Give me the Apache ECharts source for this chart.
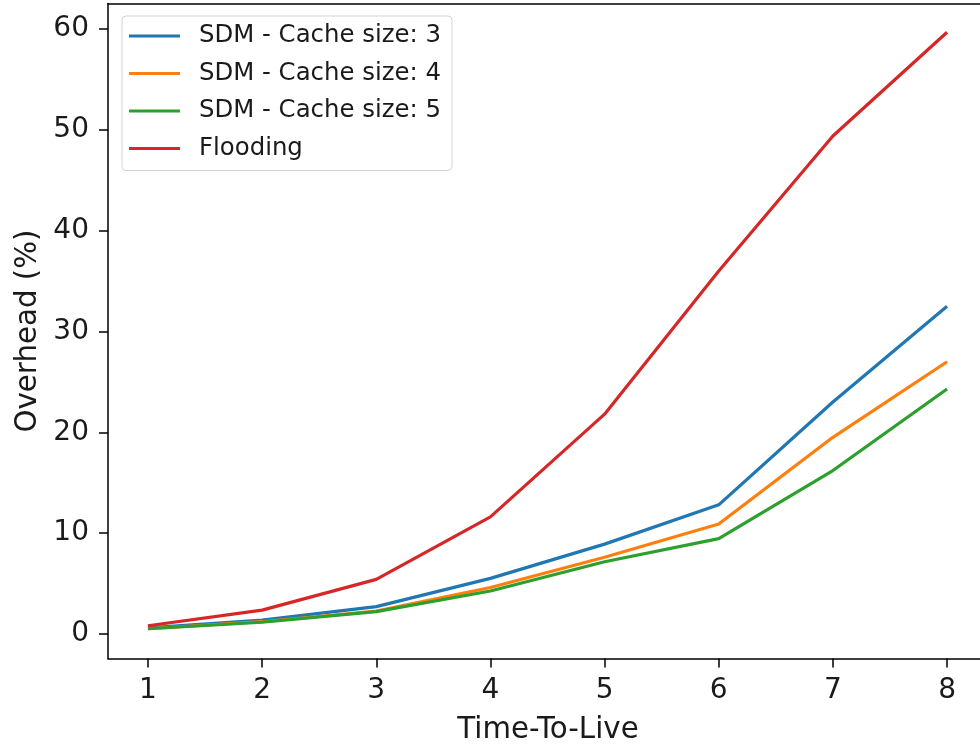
<!DOCTYPE html>
<html>
<head>
<meta charset="utf-8">
<script src="https://cdn.jsdelivr.net/npm/echarts@6/dist/echarts.min.js"></script>
<style>
  html, body { margin: 0; padding: 0; background: #fff; }
  #chart { width: 980px; height: 746px; }
</style>
</head>
<body>
<div id="chart"></div>
<script>
// Time-To-Live values on the x axis
const ttl = [1, 2, 3, 4, 5, 6, 7, 8];
const xTicks = [1, 2, 3, 4, 5, 6, 7, 8];
const yTicks = [0, 10, 20, 30, 40, 50, 60];

// Overhead (%) per strategy
const sdmCache3 = [0.6, 1.35, 2.7, 5.5, 8.9, 12.8, 23.0, 32.5];
const sdmCache4 = [0.5, 1.2, 2.25, 4.6, 7.6, 10.9, 19.5, 27.0];
const sdmCache5 = [0.5, 1.15, 2.2, 4.25, 7.15, 9.45, 16.2, 24.3];
const flooding  = [0.8, 2.35, 5.4, 11.6, 21.8, 36.0, 49.4, 59.7];

const seriesNames = ['SDM - Cache size: 3', 'SDM - Cache size: 4', 'SDM - Cache size: 5', 'Flooding'];
const seriesData = [sdmCache3, sdmCache4, sdmCache5, flooding];
const colors = ['#1f77b4', '#ff7f0e', '#2ca02c', '#d62728'];

const font = 'DejaVu Sans';
const ink = '#1a1a1a';

// x range runs past the right edge of the canvas, so the right frame line is not visible
const xMin = 0.65, xMax = 8.2887;
const yMin = -2.45, yMax = 62.55;

const chart = echarts.init(document.getElementById('chart'), null, { renderer: 'canvas' });

const spine = { show: true, onZero: false, lineStyle: { color: '#000', width: 1.5 } };

chart.setOption({
  animation: false,
  backgroundColor: '#ffffff',
  color: colors,
  grid: { left: 108, top: 3.5, right: 0, height: 655, containLabel: false, outerBoundsMode: 'none' },
  legend: {
    orient: 'vertical',
    left: 122, top: 16,
    icon: 'rect',
    symbolKeepAspect: false,
    itemWidth: 51, itemHeight: 3,
    itemGap: 13.5,
    padding: [8, 11, 10, 7],
    backgroundColor: 'rgba(255,255,255,0.8)',
    borderColor: '#d3d3d3', borderWidth: 1, borderRadius: 4,
    formatter: name => '{g|}' + name,
    textStyle: {
      fontFamily: font, fontSize: 24.4, color: ink,
      lineHeight: 24, height: 24,
      rich: { g: { width: 14, height: 1 } }
    },
    data: seriesNames
  },
  xAxis: [{
    type: 'value', min: xMin, max: xMax, position: 'bottom',
    name: 'Time-To-Live', nameLocation: 'middle', nameGap: 57,
    nameTextStyle: { fontFamily: font, fontSize: 29.3, color: ink, padding: [0, 0, 0, 8] },
    axisLine: spine,
    axisTick: { show: true, length: 9, lineStyle: { color: '#000', width: 1.5 }, customValues: xTicks },
    axisLabel: { fontFamily: font, fontSize: 28, color: ink, margin: 18, customValues: xTicks },
    splitLine: { show: false }
  }, {
    // top frame line
    type: 'value', min: xMin, max: xMax, position: 'top',
    axisLine: spine, axisTick: { show: false }, axisLabel: { show: false }, splitLine: { show: false }
  }],
  yAxis: {
    type: 'value', min: yMin, max: yMax,
    name: 'Overhead (%)', nameLocation: 'middle', nameGap: 65,
    nameTextStyle: { fontFamily: font, fontSize: 29.3, color: ink },
    axisLine: spine,
    axisTick: { show: true, length: 9, lineStyle: { color: '#000', width: 1.5 }, customValues: yTicks },
    axisLabel: { fontFamily: font, fontSize: 28, color: ink, margin: 19, customValues: yTicks },
    splitLine: { show: false }
  },
  series: seriesNames.map((name, i) => ({
    name: name,
    type: 'line',
    symbol: 'none',
    xAxisIndex: 0,
    data: ttl.map((t, j) => [t, seriesData[i][j]]),
    lineStyle: { width: 3.2, color: colors[i] },
    itemStyle: { color: colors[i] },
    z: 2 + i
  }))
});
</script>
</body>
</html>
